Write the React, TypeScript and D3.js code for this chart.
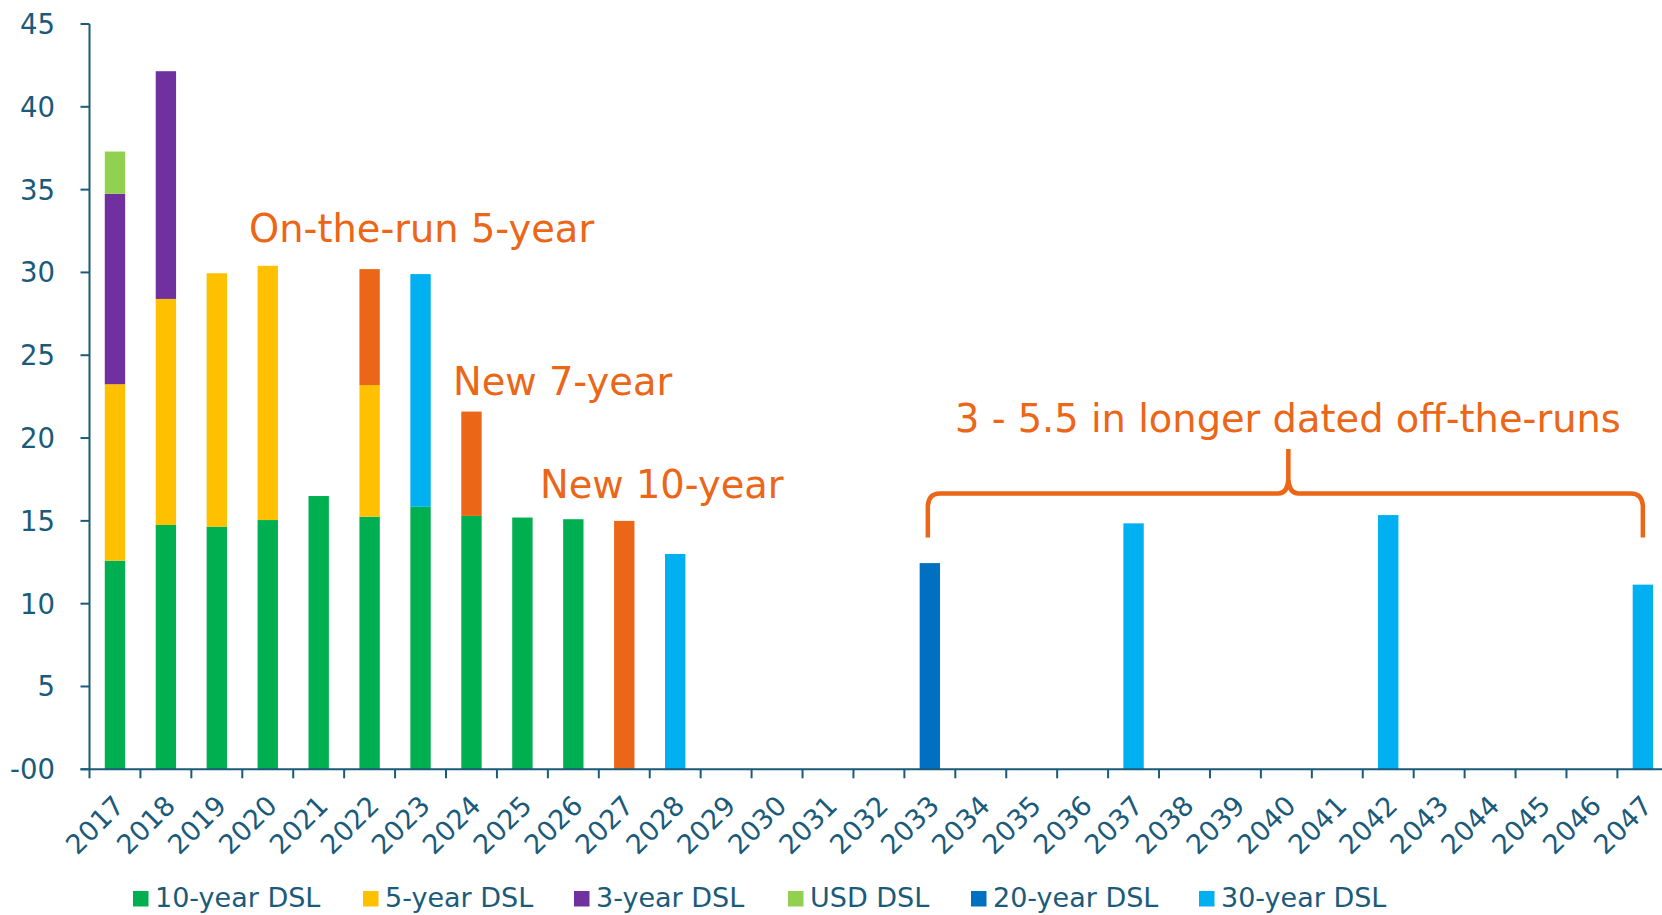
import React from 'react';
import * as d3 from 'd3';

// ---------- data ----------
const years = [
  '2017','2018','2019','2020','2021','2022','2023','2024','2025','2026',
  '2027','2028','2029','2030','2031','2032','2033','2034','2035','2036',
  '2037','2038','2039','2040','2041','2042','2043','2044','2045','2046','2047',
];
const tenYear = [12.6,14.75,14.65,15.05,16.5,15.25,15.85,15.3,15.2,15.1,0,0,0,0,0,0,0,0,0,0,0,0,0,0,0,0,0,0,0,0,0];
const fiveYear = [10.65,13.65,15.3,15.35,0,7.95,0,0,0,0,0,0,0,0,0,0,0,0,0,0,0,0,0,0,0,0,0,0,0,0,0];
const threeYear = [11.5,13.75,0,0,0,0,0,0,0,0,0,0,0,0,0,0,0,0,0,0,0,0,0,0,0,0,0,0,0,0,0];
const usdDsl = [2.55,0,0,0,0,0,0,0,0,0,0,0,0,0,0,0,0,0,0,0,0,0,0,0,0,0,0,0,0,0,0];
const twentyYear = [0,0,0,0,0,0,0,0,0,0,0,0,0,0,0,0,12.45,0,0,0,0,0,0,0,0,0,0,0,0,0,0];
const thirtyYear = [0,0,0,0,0,0,14.05,0,0,0,0,13.0,0,0,0,0,0,0,0,0,14.85,0,0,0,0,15.35,0,0,0,0,11.15];
const newIssue = [0,0,0,0,0,7.0,0,6.3,0,0,15.0,0,0,0,0,0,0,0,0,0,0,0,0,0,0,0,0,0,0,0,0];

const yTicks = [0, 5, 10, 15, 20, 25, 30, 35, 40, 45];
const yTickLabels = ['-00', '5', '10', '15', '20', '25', '30', '35', '40', '45'];

const seriesKeys = ['tenYear', 'fiveYear', 'threeYear', 'usd', 'twentyYear', 'thirtyYear', 'newIssue'];
const seriesColors: Record<string, string> = {
  tenYear: '#00B050',
  fiveYear: '#FFC000',
  threeYear: '#7030A0',
  usd: '#92D050',
  twentyYear: '#0070C0',
  thirtyYear: '#00B0F0',
  newIssue: '#EC6617',
};
const legendLabels = ['10-year DSL', '5-year DSL', '3-year DSL', 'USD DSL', '20-year DSL', '30-year DSL'];
const legendKeys = ['tenYear', 'fiveYear', 'threeYear', 'usd', 'twentyYear', 'thirtyYear'];

const annotations = [
  { text: 'On-the-run 5-year', x: 249, y: 242 },
  { text: 'New 7-year', x: 453, y: 395 },
  { text: 'New 10-year', x: 540, y: 497.5 },
  { text: '3 - 5.5 in longer dated off-the-runs', x: 955, y: 431.5 },
];

// ---------- layout ----------
const W = 1662;
const H = 915;
const AXIS = '#1A5A7A';
const ORANGE = '#EC6617';
const FONT = "Verdana, 'DejaVu Sans', sans-serif";

const x0 = 89.5;
const step = 50.93;
const x = d3
  .scaleBand<string>()
  .domain(years)
  .range([x0, x0 + step * years.length])
  .paddingInner(0.6)
  .paddingOuter(0.3);
const y = d3.scaleLinear().domain([0, 45]).range([769.3, 24]);

const rows = years.map((yr, i) => ({
  year: yr,
  tenYear: tenYear[i],
  fiveYear: fiveYear[i],
  threeYear: threeYear[i],
  usd: usdDsl[i],
  twentyYear: twentyYear[i],
  thirtyYear: thirtyYear[i],
  newIssue: newIssue[i],
}));
const stacked = d3.stack<any>().keys(seriesKeys)(rows);

const legendX = [133, 363, 574, 788, 971, 1199];

export default function App() {
  const base = y(0);
  const xEnd = x0 + step * years.length;

  // bracket from 2033 to 2047 categories
  const bl = (x('2033') as number) + x.bandwidth() / 2 - 2;
  const br = (x('2047') as number) + x.bandwidth() / 2;
  const bm = (bl + br) / 2 + 3;
  const bTop = 493.5;
  const bBot = 537.5;
  const bPeak = 449;
  const bracket = [
    `M${bl},${bBot}`,
    `L${bl},${bTop + 12}`,
    `Q${bl + 1},${bTop} ${bl + 12},${bTop}`,
    `L${bm - 10},${bTop}`,
    `Q${bm - 1},${bTop} ${bm},${bTop - 14}`,
    `L${bm},${bPeak}`,
    `M${bm},${bTop - 14}`,
    `Q${bm + 1},${bTop} ${bm + 10},${bTop}`,
    `L${br - 12},${bTop}`,
    `Q${br - 1},${bTop} ${br},${bTop + 12}`,
    `L${br},${bBot}`,
  ].join(' ');

  return (
    <svg
      width={W}
      height={H}
      style={{ position: 'absolute', left: 0, top: 0, display: 'block', background: '#fff' }}
      fontFamily={FONT}
    >
      {/* bars */}
      {stacked.map((layer) => (
        <g key={layer.key} fill={seriesColors[layer.key]}>
          {layer.map((d, i) =>
            d[1] - d[0] > 0 ? (
              <rect
                key={i}
                x={x(years[i])}
                width={x.bandwidth()}
                y={y(d[1])}
                height={y(d[0]) - y(d[1])}
              />
            ) : null
          )}
        </g>
      ))}

      {/* y axis */}
      <line x1={x0} x2={x0} y1={y(45)} y2={base} stroke={AXIS} strokeWidth={2} />
      {yTicks.map((t, i) => (
        <g key={t}>
          <line x1={x0 - 9} x2={x0} y1={y(t)} y2={y(t)} stroke={AXIS} strokeWidth={2} />
          <text
            x={55}
            y={y(t)}
            dy="0.36em"
            textAnchor="end"
            fontSize={27.5}
            fill={AXIS}
          >
            {yTickLabels[i]}
          </text>
        </g>
      ))}

      {/* x axis */}
      <line x1={x0 - 9} x2={xEnd} y1={base} y2={base} stroke={AXIS} strokeWidth={2} />
      {d3.range(years.length + 1).map((i) => (
        <line
          key={i}
          x1={x0 + i * step}
          x2={x0 + i * step}
          y1={base}
          y2={base + 9}
          stroke={AXIS}
          strokeWidth={2}
        />
      ))}
      {years.map((yr) => {
        const cx = (x(yr) as number) + x.bandwidth() / 2;
        return (
          <text
            key={yr}
            transform={`translate(${cx + 11},${base + 38}) rotate(-45)`}
            textAnchor="end"
            fontSize={27}
            fill={AXIS}
          >
            {yr}
          </text>
        );
      })}

      {/* annotations */}
      {annotations.map((a) => (
        <text key={a.text} x={a.x} y={a.y} fontSize={38.4} fill={ORANGE}>
          {a.text}
        </text>
      ))}
      <path
        d={bracket}
        fill="none"
        stroke={ORANGE}
        strokeWidth={4.5}
        strokeLinecap="butt"
        strokeLinejoin="round"
      />

      {/* legend */}
      {legendKeys.map((k, i) => (
        <g key={k}>
          <rect x={legendX[i]} y={891} width={15.5} height={15.5} fill={seriesColors[k]} />
          <text x={legendX[i] + 22} y={906.5} fontSize={27} fill={AXIS}>
            {legendLabels[i]}
          </text>
        </g>
      ))}
    </svg>
  );
}
